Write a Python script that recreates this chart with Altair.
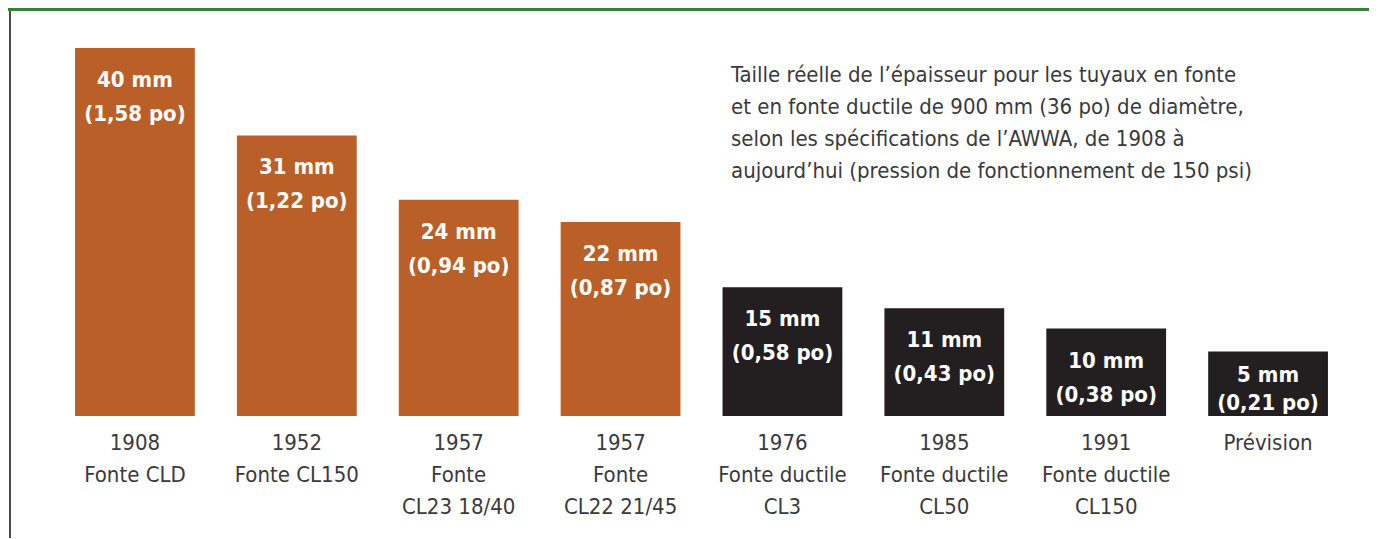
import altair as alt
import pandas as pd

# ---- data ----
categories = [
    "1908|Fonte CLD",
    "1952|Fonte CL150",
    "1957|Fonte|CL23 18/40",
    "1957|Fonte|CL22 21/45",
    "1976|Fonte ductile|CL3",
    "1985|Fonte ductile|CL50",
    "1991|Fonte ductile|CL150",
    "Prévision",
]
epaisseur_mm = [40, 31, 24, 22, 15, 11, 10, 5]
epaisseur_po = ["1,58", "1,22", "0,94", "0,87", "0,58", "0,43", "0,38", "0,21"]
# drawn bar height (in mm-scale units, as measured on the picture)
hauteur_barre = [40.0, 30.5, 23.5, 21.1, 14.0, 11.7, 9.5, 7.0]
materiau = ["fonte", "fonte", "fonte", "fonte", "ductile", "ductile", "ductile", "ductile"]

note_lines = [
    "Taille réelle de l\u2019épaisseur pour les tuyaux en fonte",
    "et en fonte ductile de 900 mm (36 po) de diamètre,",
    "selon les spécifications de l\u2019AWWA, de 1908 à",
    "aujourd\u2019hui (pression de fonctionnement de 150 psi)",
]

df = pd.DataFrame({
    "cat": categories,
    "mm": epaisseur_mm,
    "po": epaisseur_po,
    "h": hauteur_barre,
    "mat": materiau,
})
df["l1"] = df["mm"].astype(str) + " mm"
df["l2"] = "(" + df["po"] + " po)"

FONT = "Liberation Sans Narrow, Arial Narrow, DejaVu Sans Condensed, sans-serif"
TXT = "#3a3a3a"
W, H = 1295, 368
K = 40.0 / H  # data units per pixel

x = alt.X("cat:N", sort=categories, title=None,
          scale=alt.Scale(paddingInner=0.26, paddingOuter=0.13),
          axis=alt.Axis(labelExpr="split(datum.label, '|')", labelAngle=0,
                        labelFont=FONT, labelFontSize=22, labelColor=TXT,
                        labelLineHeight=32, labelPadding=16, labelLimit=400,
                        domain=False, ticks=False, grid=False))
y = alt.Y("h:Q", title=None, scale=alt.Scale(domain=[0, 40], nice=False, zero=True),
          axis=None)

base = alt.Chart(df).encode(x=x)

bars = base.mark_bar(cornerRadius=0).encode(
    y=y,
    color=alt.Color("mat:N", scale=alt.Scale(domain=["fonte", "ductile"],
                                             range=["#BA5F28", "#231F20"]), legend=None),
)

labels = base.transform_calculate(
    y2=f"max(datum.h - {66*K}, {13*K})",
).transform_calculate(
    y1=f"(datum.h - {66*K} < {13*K}) ? datum.y2 + {28*K} : datum.h - {32*K}",
)

t1 = labels.mark_text(font=FONT, fontSize=22, fontWeight="bold", color="white",
                      baseline="middle").encode(y=alt.Y("y1:Q", scale=alt.Scale(domain=[0, 40])), text="l1:N")
t2 = labels.mark_text(font=FONT, fontSize=22, fontWeight="bold", color="white",
                      baseline="middle").encode(y=alt.Y("y2:Q", scale=alt.Scale(domain=[0, 40])), text="l2:N")

note = alt.Chart(pd.DataFrame({"t": [note_lines]})).mark_text(
    font=FONT, fontSize=22, color=TXT, align="left", baseline="middle", lineHeight=32,
).encode(x=alt.value(677), y=alt.value(27), text="t:N")

green = alt.Chart(pd.DataFrame({"a": [0]})).mark_rect(color="#3B7D3B").encode(
    x=alt.value(-46), x2=alt.value(1331), y=alt.value(-40), y2=alt.value(-37))
leftline = alt.Chart(pd.DataFrame({"a": [0]})).mark_rect(color="#4a4a4a").encode(
    x=alt.value(-45), x2=alt.value(-43), y=alt.value(-37), y2=alt.value(H + 123))

chart = alt.layer(green, leftline, bars, t1, t2, note).properties(
    width=W, height=H,
    autosize=alt.AutoSizeParams(type="none"),
    padding={"left": 46, "top": 40, "right": 20, "bottom": 122},
).configure(background="white").configure_view(stroke=None, strokeWidth=0)

chart.save("out.html", embed_options={"renderer": "svg", "actions": False})
